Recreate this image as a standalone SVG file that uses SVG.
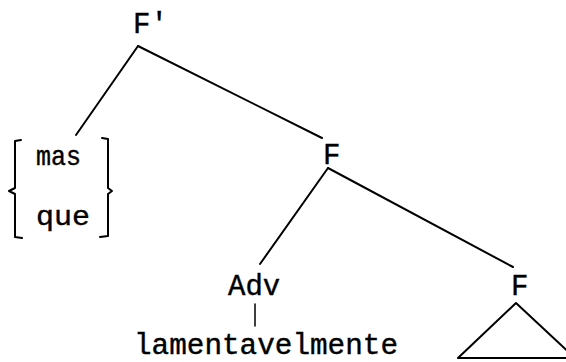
<svg xmlns="http://www.w3.org/2000/svg" width="566" height="362" viewBox="0 0 566 362">
<style>
text{font-family:"Liberation Mono","Courier New",monospace;font-size:29px;fill:#000;stroke:#000;stroke-width:0.4}
.e{stroke:#000;stroke-width:2;fill:none;stroke-linecap:round;stroke-linejoin:round}
</style>
<rect width="566" height="362" fill="#fff"/>
<g id="connectors">
<line class="e" x1="138" y1="46" x2="76" y2="135"/>
<line class="e" x1="138" y1="46" x2="322" y2="138"/>
<line class="e" x1="328" y1="168" x2="260" y2="264"/>
<line class="e" x1="328" y1="168" x2="513" y2="267"/>
<line class="e" x1="255" y1="304" x2="255" y2="326" style="stroke-width:1.5"/>
</g>
<g id="node-Fprime"><text x="133" y="33">F'</text></g>
<g id="node-F1"><text x="323" y="164">F</text></g>
<g id="node-brace">
<path class="e" d="M21,140 L15,141 L15,188 L9,191 L15,194 L15,237 L22,238"/>
<path class="e" d="M102,138 L108,139 L108,188 L112,191 L108,194 L108,236 L100,237"/>
<text x="36" y="165" textLength="45" lengthAdjust="spacingAndGlyphs" style="font-size:28px">mas</text>
<text x="36" y="225" textLength="54" lengthAdjust="spacingAndGlyphs" style="font-size:28px">que</text>
</g>
<g id="node-Adv"><text x="228" y="295">Adv</text></g>
<g id="node-lament"><text x="134" y="354" textLength="264" lengthAdjust="spacingAndGlyphs">lamentavelmente</text></g>
<g id="node-F2"><text x="511" y="295">F</text></g>
<g id="node-triangle"><path class="e" d="M516,303 L458,358 L575,358 Z"/></g>
</svg>
